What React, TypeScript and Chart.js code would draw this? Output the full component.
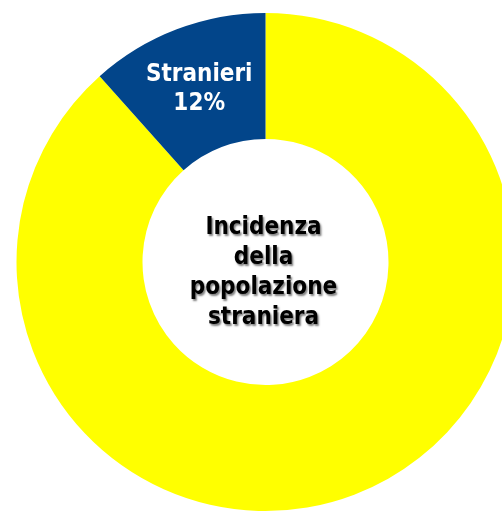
import React, { useEffect, useRef } from "react";
import { Chart, registerables } from "chart.js";

Chart.register(...registerables);

const categories = ["Italiani", "Stranieri"];
const values = [88.4, 11.6];
const colors = ["#FFFF00", "#02458A"];
const showLabel = [false, true];
const centerLines = ["Incidenza", "della", "popolazione", "straniera"];

const FONT = "'DejaVu Sans Condensed', 'DejaVu Sans', sans-serif";

const labelPlugin = {
  id: "sliceLabels",
  afterDatasetsDraw(chart: any) {
    const ctx = chart.ctx;
    const meta = chart.getDatasetMeta(0);
    const total = values.reduce((a, b) => a + b, 0);
    ctx.save();
    ctx.textAlign = "center";
    ctx.textBaseline = "middle";
    ctx.font = `bold 24px ${FONT}`;
    ctx.fillStyle = "#FFFFFF";
    meta.data.forEach((arc: any, i: number) => {
      if (!showLabel[i]) return;
      const p = arc.tooltipPosition();
      const pct = Math.round((values[i] / total) * 100) + "%";
      ctx.fillText(categories[i], p.x, p.y - 13);
      ctx.fillText(pct, p.x, p.y + 16);
    });
    // center text
    const arc0 = meta.data[0];
    const cx = arc0.x;
    const cy = arc0.y;
    ctx.fillStyle = "#000000";
    ctx.shadowColor = "rgba(0,0,0,0.5)";
    ctx.shadowOffsetX = 1.5;
    ctx.shadowOffsetY = 1.5;
    ctx.shadowBlur = 2;
    const lh = 30;
    const start = cy - (lh * (centerLines.length - 1)) / 2 + 11;
    centerLines.forEach((t, i) => ctx.fillText(t, cx - 2, start + i * lh));
    ctx.restore();
  },
};

export default function App() {
  const ref = useRef<HTMLCanvasElement>(null);
  useEffect(() => {
    document.body.style.margin = "0";
    const chart = new Chart(ref.current!, {
      type: "doughnut",
      data: {
        labels: categories,
        datasets: [
          {
            data: values,
            backgroundColor: colors,
            borderWidth: 0,
          },
        ],
      },
      options: {
        animation: false,
        responsive: false,
        maintainAspectRatio: false,
        radius: 249,
        cutout: "49.4%",
        rotation: 0,
        plugins: {
          legend: { display: false },
          tooltip: { enabled: false },
        },
      },
      plugins: [labelPlugin],
    });
    return () => chart.destroy();
  }, []);
  return (
    <div
      style={{
        position: "fixed",
        left: 0,
        top: 0,
        width: 502,
        height: 513,
        overflow: "hidden",
        background: "#fff",
      }}
    >
      <canvas ref={ref} width={531} height={524} style={{ width: 531, height: 524, display: "block" }} />
    </div>
  );
}
